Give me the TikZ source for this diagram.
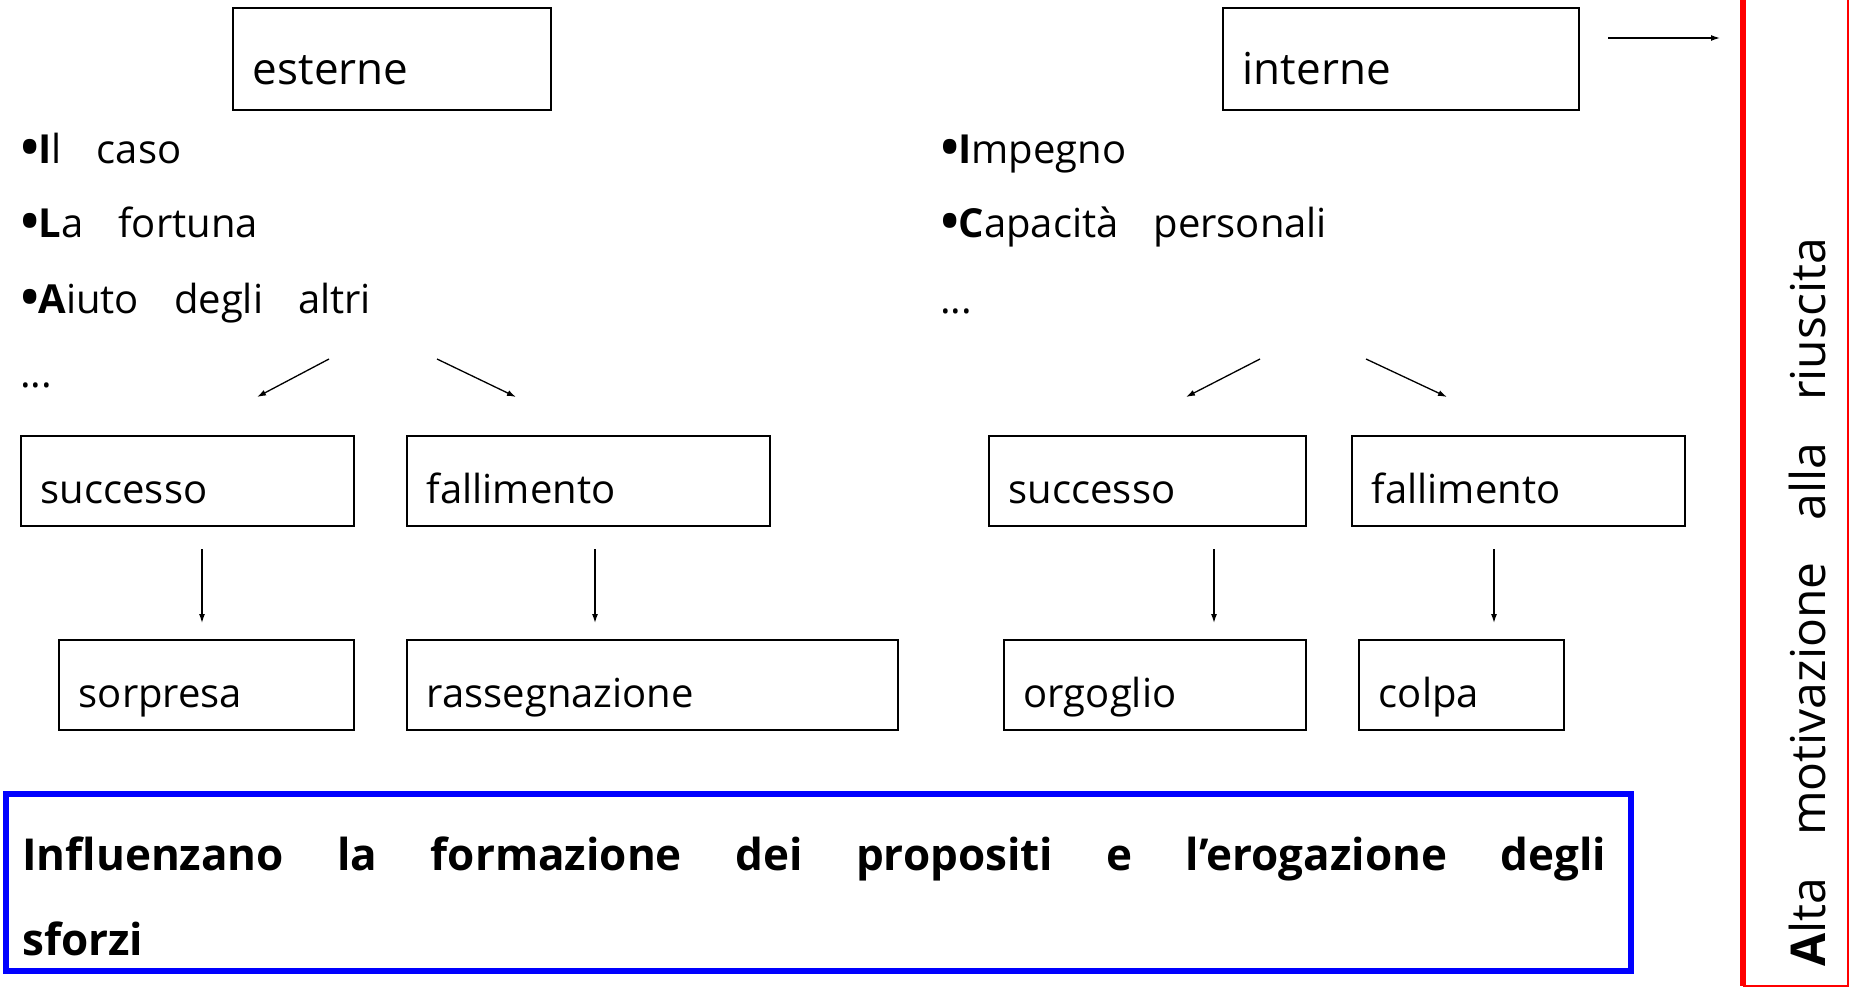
\documentclass[tikz,border=0pt]{standalone}
\usepackage{fontspec}
\setmainfont{Open Sans}
\usetikzlibrary{arrows.meta,calc}
\newcommand\wsp{\hspace{35pt}}
\newcommand\rsp{\hspace{42pt}}
\newcommand\bul{\raisebox{-6pt}{\fontsize{62}{62}\selectfont •}\hspace{-3pt}}
\begin{document}
\begin{tikzpicture}[x=1pt,y=-1pt,
  box/.style={draw=black, line width=1.6pt, anchor=north west, inner xsep=20pt, inner ysep=0pt,
    align=left, font=\fontsize{40}{48}\selectfont, text height=68pt, text depth=22pt},
  topbox/.style={box, font=\fontsize{44}{52}\selectfont, text height=77pt, text depth=25pt},
  item/.style={anchor=base west, inner sep=0pt, font=\fontsize{40}{48}\selectfont},
  arr/.style={line width=1.3pt, -{Latex[length=9pt,width=6pt]}},
  bluebox/.style={draw=blue, line width=6pt, anchor=north west, inner sep=0pt},
  bluetext/.style={anchor=base west, inner sep=0pt, font=\fontsize{44}{52}\selectfont\bfseries},
  redtext/.style={anchor=base west, inner sep=0pt, rotate=90, font=\fontsize{48}{56}\selectfont}
]
\useasboundingbox (0,0) rectangle (1850,990);
\fill[white] (0,0) rectangle (1850,990);

% top boxes
\node[topbox, text width=278pt] (esterne) at (232,7) {esterne};
\node[topbox, text width=316pt] (interne) at (1222,7) {interne};

% bullet lists
\node[item] (l1) at (18,163) {\bul\textbf{I}l\wsp caso};
\node[item] (l2) at (18,237) {\bul\textbf{L}a\wsp fortuna};
\node[item] (l3) at (18,313) {\bul\textbf{A}iuto\wsp degli\wsp altri};
\node[item] (l4) at (20,387) {...};
\node[item] (r1) at (938,163) {\bul\textbf{I}mpegno};
\node[item] (r2) at (938,237) {\bul\textbf{C}apacità\wsp personali};
\node[item] (r3) at (940,313) {...};

% middle boxes
\node[box, text width=293pt] (succL) at (20,435) {successo};
\node[box, text width=323pt] (fallL) at (406,435) {fallimento};
\node[box, text width=277pt] (succR) at (988,435) {successo};
\node[box, text width=293pt] (fallR) at (1351,435) {fallimento};

% bottom boxes
\node[box, text width=255pt] (sorpresa) at (58,639) {sorpresa};
\node[box, text width=451pt] (rass) at (406,639) {rassegnazione};
\node[box, text width=262pt] (orgoglio) at (1003,639) {orgoglio};
\node[box, text width=165pt] (colpa) at (1358,639) {colpa};

% arrow end points
\coordinate (ia) at (1608,38);   \coordinate (ib) at (1720,38);
\coordinate (dl1s) at (329,359); \coordinate (dl1e) at (257,397);
\coordinate (dl2s) at (437,359); \coordinate (dl2e) at (516,397);
\coordinate (dr1s) at (1260,359); \coordinate (dr1e) at (1186,397);
\coordinate (dr2s) at (1366,359); \coordinate (dr2e) at (1447,397);
\coordinate (vl1s) at (202,549); \coordinate (vl1e) at (202,623);
\coordinate (vl2s) at (595,549); \coordinate (vl2e) at (595,623);
\coordinate (vr1s) at (1214,549); \coordinate (vr1e) at (1214,623);
\coordinate (vr2s) at (1494,549); \coordinate (vr2e) at (1494,623);

\draw[arr] (ia) -- (ib);
\draw[arr] (dl1s) -- (dl1e);
\draw[arr] (dl2s) -- (dl2e);
\draw[arr] (dr1s) -- (dr1e);
\draw[arr] (dr2s) -- (dr2e);
\draw[arr] (vl1s) -- (vl1e);
\draw[arr] (vl2s) -- (vl2e);
\draw[arr] (vr1s) -- (vr1e);
\draw[arr] (vr2s) -- (vr2e);

% blue box
\node[bluebox, minimum width=1625pt, minimum height=177pt] (infl) at (3,791) {};
\node[bluetext] (infl1) at (22,870) {\hbox to 1584pt{Influenzano\hfill la\hfill formazione\hfill dei\hfill propositi\hfill e\hfill l'erogazione\hfill degli}};
\node[bluetext] (infl2) at (22,955) {sforzi};

% red box
\draw[red, line width=6pt] (1743,0) -- (1743,986);
\draw[red, line width=2pt] (1743,986) -- (1848,986) -- (1848,0);
\node[redtext] (alta) at (1825,967) {\textbf{A}lta\rsp motivazione\rsp alla\rsp riuscita};
\end{tikzpicture}
\end{document}
